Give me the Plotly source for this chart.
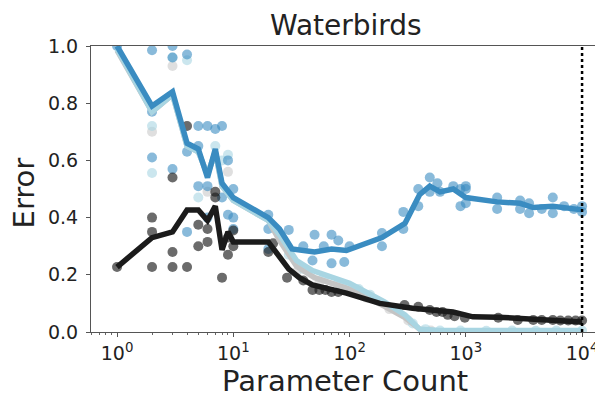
import plotly.graph_objects as go

# ---- line series (mean curves) ----
blue_x = [1, 2, 3, 4, 5, 6, 7, 8, 10, 20, 25, 32, 50, 70, 94, 190, 300, 400, 490, 600, 780, 1000, 1860, 2930, 3800, 5600, 10000]
blue_y = [1.0, 0.79, 0.84, 0.66, 0.64, 0.54, 0.64, 0.52, 0.47, 0.40, 0.36, 0.29, 0.28, 0.29, 0.285, 0.33, 0.38, 0.48, 0.51, 0.49, 0.50, 0.47, 0.455, 0.45, 0.435, 0.44, 0.427]

light_x = [1, 2, 3, 4, 5, 6, 7, 8, 10, 20, 25, 35, 48, 70, 100, 200, 300, 400, 600, 10000]
light_y = [0.99, 0.77, 0.83, 0.65, 0.63, 0.55, 0.63, 0.51, 0.46, 0.39, 0.34, 0.25, 0.215, 0.19, 0.17, 0.105, 0.06, 0.01, 0.005, 0.005]

gray_x = [1, 2, 3, 4, 5, 6, 7, 8, 10, 20, 25, 35, 50, 100, 200, 300, 400, 600, 10000]
gray_y = [0.985, 0.77, 0.83, 0.65, 0.63, 0.55, 0.63, 0.51, 0.46, 0.39, 0.32, 0.23, 0.19, 0.15, 0.09, 0.05, 0.01, 0.003, 0.003]

black_x = [1, 2, 3, 4, 5, 6, 7, 8, 9, 10, 20, 30, 37, 48, 94, 182, 348, 776, 1150, 1860, 10000]
black_y = [0.227, 0.33, 0.35, 0.427, 0.427, 0.39, 0.44, 0.287, 0.35, 0.315, 0.315, 0.22, 0.19, 0.165, 0.136, 0.10, 0.083, 0.07, 0.053, 0.052, 0.035]

# ---- individual runs (scatter) ----
blue_sc_x = [1, 2, 2, 2, 3, 3, 3, 4, 4, 4, 5, 5, 5, 6, 6, 6, 7, 8, 8, 9, 9, 10, 10, 10, 20, 20, 20,
             30, 40, 48, 50, 60, 70, 70, 80, 90, 100, 190, 190, 290, 290, 390, 390, 490, 490, 570, 600, 780, 900, 900,
             1000, 1000, 1000, 1860, 1860, 2930, 2930, 3500, 3500, 4500, 5600, 5600, 7000, 8500, 10000, 10000]
blue_sc_y = [1.0, 0.985, 0.77, 0.61, 1.0, 0.96, 0.57, 0.97, 0.63, 0.35, 0.72, 0.65, 0.51, 0.72, 0.51, 0.40, 0.71, 0.72, 0.47, 0.60, 0.41, 0.50, 0.40, 0.36, 0.41, 0.36, 0.29,
             0.357, 0.30, 0.25, 0.34, 0.30, 0.34, 0.24, 0.32, 0.245, 0.30, 0.346, 0.30, 0.42, 0.36, 0.50, 0.44, 0.54, 0.49, 0.52, 0.49, 0.51, 0.44, 0.50,
             0.51, 0.50, 0.45, 0.47, 0.43, 0.46, 0.43, 0.45, 0.415, 0.43, 0.47, 0.415, 0.44, 0.43, 0.44, 0.42]

light_sc_x = [2, 2, 3, 4, 5, 7, 8, 9, 30, 40, 60, 80, 120, 150, 250, 350, 450, 600, 900, 1500, 2500, 4000, 6000, 10000]
light_sc_y = [0.72, 0.556, 0.96, 0.95, 0.47, 0.65, 0.60, 0.62, 0.27, 0.22, 0.19, 0.17, 0.15, 0.13, 0.08, 0.03, 0.01, 0.005, 0.005, 0.004, 0.005, 0.004, 0.005, 0.005]

gray_sc_x = [2, 3, 6, 9, 35, 55, 90, 140, 220, 320, 500]
gray_sc_y = [0.70, 0.93, 0.49, 0.56, 0.21, 0.17, 0.15, 0.12, 0.08, 0.04, 0.005]

black_sc_x = [1, 2, 2, 2, 3, 3, 3, 4, 4, 5, 5, 6, 6, 7, 7, 8, 9, 9, 10, 10, 20, 22, 29, 40, 48, 55, 62, 70, 80,
              297, 390, 490, 560, 630, 700, 800, 980, 1900, 2800, 3800, 4500, 5600, 6500, 7600, 8800, 10000]
black_sc_y = [0.227, 0.40, 0.35, 0.227, 0.54, 0.28, 0.227, 0.72, 0.227, 0.375, 0.30, 0.315, 0.36, 0.49, 0.47, 0.19, 0.27, 0.33, 0.355, 0.30, 0.28, 0.31, 0.19, 0.18, 0.147, 0.147, 0.147, 0.14, 0.14,
              0.094, 0.088, 0.077, 0.07, 0.07, 0.06, 0.055, 0.05, 0.05, 0.042, 0.042, 0.042, 0.042, 0.04, 0.04, 0.04, 0.04]

BLUE = "#3a8cc1"
LIGHT = "#a8d5e2"
GRAY = "#c4c4c4"
BLACK = "#1b1b1b"

fig = go.Figure()

def sc(x, y, color, op):
    fig.add_trace(go.Scatter(x=x, y=y, mode="markers",
                             marker=dict(size=10, color=color, opacity=op, line=dict(width=0)),
                             showlegend=False, hoverinfo="skip"))

def ln(x, y, color, w=5.5):
    fig.add_trace(go.Scatter(x=x, y=y, mode="lines", line=dict(color=color, width=w),
                             showlegend=False, hoverinfo="skip"))

sc(gray_sc_x, gray_sc_y, GRAY, 0.55)
sc(light_sc_x, light_sc_y, LIGHT, 0.6)
sc(blue_sc_x, blue_sc_y, BLUE, 0.6)
sc(black_sc_x, black_sc_y, BLACK, 0.65)
ln(gray_x, gray_y, GRAY)
ln(light_x, light_y, LIGHT)
ln(black_x, black_y, BLACK)
ln(blue_x, blue_y, BLUE)

# dotted vertical reference line at 10^4
fig.add_trace(go.Scatter(x=[10000, 10000], y=[0, 1], mode="lines",
                         line=dict(color="black", width=2.5, dash="dot"),
                         showlegend=False, hoverinfo="skip"))

tick_vals = [1, 10, 100, 1000, 10000]
tick_text = ["10<sup>0</sup>", "10<sup>1</sup>", "10<sup>2</sup>", "10<sup>3</sup>", "10<sup>4</sup>"]
minor_vals = [m * 10 ** e for e in range(-1, 5) for m in range(2, 10)]

FONT = "DejaVu Sans"
TXT = "#222"
# page body has an 8px default margin: figure is 595x391 so it fits the 603x399 window
fig.update_layout(
    width=595, height=391,
    margin=dict(l=83, r=0, t=38, b=67),
    paper_bgcolor="white", plot_bgcolor="white",
    font=dict(family=FONT, color=TXT, size=19),
    xaxis=dict(type="log", range=[-0.224, 4.18], showgrid=False, zeroline=False, automargin=False,
               showline=True, linecolor="#555", linewidth=1.2, mirror=True,
               ticks="outside", ticklen=4, tickcolor="#555",
               tickmode="array", tickvals=tick_vals, ticktext=tick_text,
               tickfont=dict(size=19, family=FONT, color=TXT),
               minor=dict(ticks="outside", ticklen=2, tickcolor="#666", tickmode="array", tickvals=minor_vals)),
    yaxis=dict(range=[0, 1], showgrid=False, zeroline=False, automargin=False,
               showline=True, linecolor="#555", linewidth=1.2, mirror=False,
               ticks="outside", ticklen=4, tickcolor="#555", ticklabelstandoff=4,
               tickvals=[0, 0.2, 0.4, 0.6, 0.8, 1.0], ticktext=["0.0", "0.2", "0.4", "0.6", "0.8", "1.0"],
               tickfont=dict(size=19, family=FONT, color=TXT)),
    annotations=[
        dict(text="Waterbirds", xref="paper", yref="paper", x=0.498, y=1.07,
             xanchor="center", yanchor="middle", showarrow=False,
             font=dict(size=28, family=FONT, color=TXT)),
        dict(text="Parameter Count", xref="paper", yref="paper", x=0.496, y=-0.172,
             xanchor="center", yanchor="middle", showarrow=False,
             font=dict(size=29, family=FONT, color=TXT)),
        dict(text="Error", xref="paper", yref="paper", x=-0.13, y=0.486,
             xanchor="center", yanchor="middle", showarrow=False, textangle=-90,
             font=dict(size=29, family=FONT, color=TXT)),
    ],
)

fig.write_html("out.html")
